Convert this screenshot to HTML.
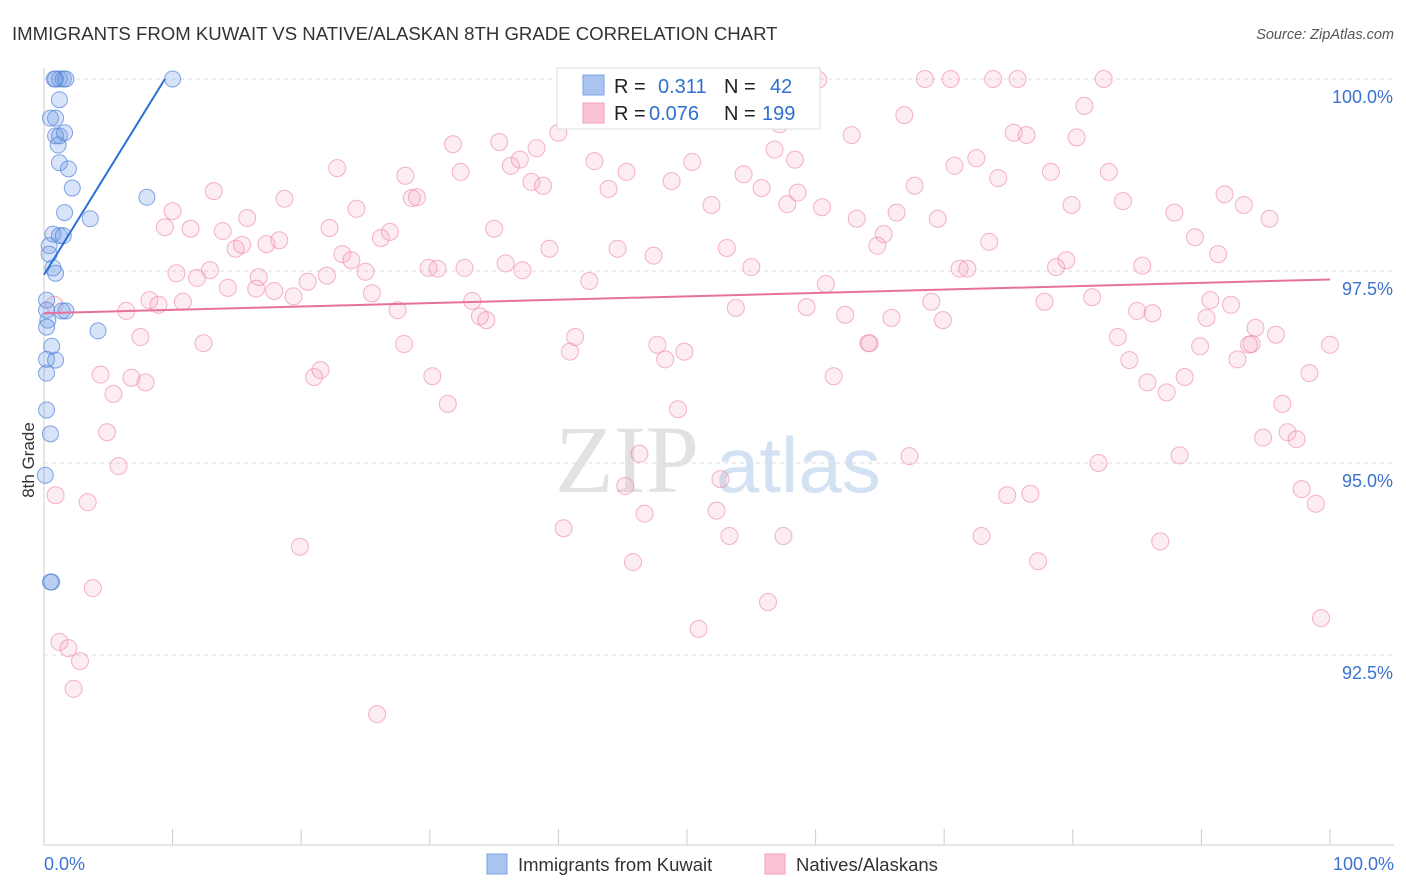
<!DOCTYPE html>
<html><head><meta charset="utf-8"><style>
body{margin:0;background:#fff;font-family:"Liberation Sans",sans-serif;}
svg{display:block}
</style></head><body>
<svg id="chart" width="1406" height="892">
<text x="12" y="40" font-size="18.6" fill="#333">IMMIGRANTS FROM KUWAIT VS NATIVE/ALASKAN 8TH GRADE CORRELATION CHART</text>
<text x="1394" y="39" font-size="14.5" fill="#555" text-anchor="end" font-style="italic">Source: ZipAtlas.com</text>
<g>
<text x="555" y="492" font-family="Liberation Serif,serif" font-size="96" fill="#e2e2e2">ZIP</text>
<text x="716" y="492" font-size="78" fill="#d3e2f3">atlas</text>
</g>
<g id="grid"></g>
<g id="axes"></g>
<g id="points"></g>
<g id="trends"></g>
<text x="34" y="460" font-size="17" fill="#333" text-anchor="middle" transform="rotate(-90 34 460)">8th Grade</text>
<g>
<rect x="557" y="68" width="263" height="61" fill="#fff" stroke="#ddd"/>
<rect x="583" y="75" width="21" height="20" fill="#a9c5ef" stroke="#7aa3e0"/>
<rect x="583" y="103" width="21" height="20" fill="#f9c3d5" stroke="#f0a0bb"/>
<text x="614" y="93" font-size="20" fill="#222">R = </text><text x="658" y="93" font-size="20" fill="#2f6fd0">0.311</text>
<text x="724" y="93" font-size="20" fill="#222">N = </text><text x="770" y="93" font-size="20" fill="#2f6fd0">42</text>
<text x="614" y="120" font-size="20" fill="#222">R = </text><text x="649" y="120" font-size="20" fill="#2f6fd0">0.076</text>
<text x="724" y="120" font-size="20" fill="#222">N = </text><text x="762" y="120" font-size="20" fill="#2f6fd0">199</text>
</g>
<g>
<rect x="487" y="854" width="20" height="20" fill="#a9c5ef" stroke="#7aa3e0"/>
<text x="518" y="871" font-size="18.5" fill="#333">Immigrants from Kuwait</text>
<rect x="765" y="854" width="20" height="20" fill="#f9c3d5" stroke="#f0a0bb"/>
<text x="796" y="871" font-size="18.5" fill="#333">Natives/Alaskans</text>
</g>
</svg>
<script>
const yTicks=[100,97.5,95,92.5];
const yTickLabels=["100.0%","97.5%","95.0%","92.5%"];
const xTickLabels=["0.0%","100.0%"];
const kuwaitX=[0.9,1.2,1.5,1.7,0.8,10.0,1.2,0.9,0.9,1.2,1.6,1.1,1.2,1.9,2.2,1.6,8.0,3.6,0.7,1.2,1.5,0.4,0.7,0.9,0.2,0.3,1.4,1.7,0.2,4.2,0.6,0.2,0.9,0.2,0.2,0.5,0.1,0.6,0.5,0.4,0.2,0.5];
const kuwaitY=[100,100,100,100,100,100,99.73,99.49,99.26,99.26,99.30,99.14,98.91,98.83,98.58,98.26,98.46,98.18,97.98,97.96,97.96,97.83,97.54,97.47,97.12,96.86,96.98,96.98,96.99,96.72,96.52,96.35,96.34,96.17,95.69,95.38,94.84,93.45,93.45,97.72,96.77,99.49];
const nativeX=[0.8,0.9,1.2,3.4,3.8,1.9,2.8,2.3,4.4,4.9,5.4,5.8,6.4,6.8,7.5,7.9,8.2,8.9,9.4,10.0,10.3,10.8,11.4,11.9,12.4,12.9,13.2,13.9,14.3,14.9,15.4,15.8,16.5,16.7,17.3,17.9,18.3,18.7,19.4,19.9,20.5,21.0,21.5,22.0,22.2,22.8,23.2,23.9,24.3,25.0,25.5,25.9,26.2,26.9,27.5,28.0,28.1,28.6,29.0,29.9,30.2,30.6,31.4,31.8,32.4,32.7,33.3,33.9,34.4,35.0,35.4,35.9,36.3,37.0,37.2,37.9,38.3,38.8,39.3,40.0,40.4,40.9,41.3,42.4,42.8,43.9,44.6,45.3,45.8,45.2,46.3,46.7,47.4,47.7,48.3,48.8,49.3,49.8,50.4,50.9,51.4,51.9,52.3,52.6,53.1,53.3,53.8,54.4,55.0,55.8,56.3,56.8,57.2,57.5,57.8,58.4,58.6,59.3,60.2,60.5,60.8,61.4,62.3,62.8,63.2,64.1,64.2,64.8,65.3,65.9,66.3,66.9,67.3,67.7,68.5,69.0,69.5,69.9,70.5,70.8,71.2,71.8,72.5,72.9,73.5,73.8,74.2,74.9,75.4,75.7,76.4,76.7,77.3,77.8,78.3,78.7,79.5,79.9,80.3,80.9,81.5,82.0,82.4,82.8,83.5,83.9,84.4,85.0,85.4,85.8,86.2,86.8,87.3,87.9,88.3,88.7,89.5,89.9,90.4,90.7,91.3,91.8,92.3,92.8,93.3,93.7,94.2,94.8,95.3,95.8,96.3,96.7,97.4,97.8,98.4,98.9,99.3,100.0,93.9];
const nativeY=[97.06,94.58,92.67,94.49,93.37,92.59,92.42,92.06,96.15,95.40,95.90,94.96,96.98,96.11,96.64,96.05,97.12,97.06,98.07,98.28,97.47,97.10,98.05,97.41,96.56,97.51,98.54,98.02,97.28,97.79,97.84,98.19,97.27,97.42,97.85,97.24,97.90,98.44,97.17,93.91,97.36,96.12,96.21,97.44,98.06,98.84,97.72,97.64,98.31,97.49,97.21,91.73,97.93,98.01,96.99,96.55,98.74,98.45,98.46,97.54,96.13,97.53,95.77,99.15,98.79,97.54,97.11,96.91,96.86,98.05,99.18,97.60,98.87,98.95,97.51,98.66,99.10,98.61,97.79,99.30,94.15,96.45,96.64,97.37,98.93,98.57,97.79,98.79,93.71,94.70,95.12,94.34,97.70,96.54,96.35,98.67,95.70,96.45,98.92,92.84,99.96,98.36,94.38,94.79,97.80,94.05,97.02,98.76,97.55,98.58,93.19,99.08,99.41,94.05,98.37,98.95,98.52,97.03,99.99,98.33,97.33,96.13,96.93,99.27,98.18,96.56,96.56,97.83,97.98,96.89,98.26,99.53,95.09,98.61,100,97.10,98.18,96.86,100,98.87,97.53,97.53,98.97,94.05,97.88,100,98.71,94.58,99.30,100,99.27,94.60,93.72,97.10,98.79,97.55,97.64,98.36,99.24,99.65,97.16,95.00,100,98.79,96.64,98.41,96.34,96.98,97.57,96.05,96.95,93.98,95.92,98.26,95.10,96.12,97.94,96.52,96.89,97.12,97.72,98.50,97.06,96.35,98.36,96.54,96.76,95.33,98.18,96.67,95.77,95.40,95.31,94.66,96.17,94.47,92.98,96.54,96.55];
const kuwaitTrend=[[0,97.45],[9.4,100]];
const nativeTrend=[[0,96.95],[100,97.39]];

const NS="http://www.w3.org/2000/svg";
const X=v=>44+v*12.86;
const Y=v=>79+(100-v)*76.8;
function mk(tag,attrs,parent){const e=document.createElementNS(NS,tag);for(const k in attrs)e.setAttribute(k,attrs[k]);document.getElementById(parent).appendChild(e);return e;}
yTicks.forEach((t,i)=>{
  const g=mk('line',{x1:44,x2:1394,y1:Y(t),y2:Y(t),stroke:'#ddd','stroke-dasharray':'4,4'},'grid');
  
  
  const l=mk('text',{x:1393,y:Y(t)+24,'font-size':18,fill:'#3b73d1','text-anchor':'end'},'axes');
  l.textContent=yTickLabels[i];
  
  
});
const ax=mk('line',{x1:44,x2:44,y1:68,y2:845,stroke:'#ccc'},'axes');


const bx=mk('line',{x1:44,x2:1394,y1:845,y2:845,stroke:'#ccc'},'axes');


for(let i=0;i<=10;i++){
  const t=mk('line',{x1:X(i*10),x2:X(i*10),y1:829,y2:845,stroke:'#ccc'},'axes');
  
  
}
[[0,'start',44],[100,'end',1394]].forEach((d,i)=>{
  const l=mk('text',{x:d[2],y:870,'font-size':18,fill:'#3b73d1','text-anchor':d[1]},'axes');
  l.textContent=xTickLabels[i];
  
  
});
nativeX.forEach((v,i)=>{
  const c=mk('circle',{cx:X(v),cy:Y(nativeY[i]),r:8.5,fill:'rgba(244,150,182,0.18)',stroke:'rgba(236,130,165,0.6)','stroke-width':1},'points');
  
  
});
kuwaitX.forEach((v,i)=>{
  const c=mk('circle',{cx:X(v),cy:Y(kuwaitY[i]),r:8,fill:'rgba(110,155,230,0.28)',stroke:'rgba(80,130,215,0.7)','stroke-width':1},'points');
  
  
});
const t1=mk('line',{x1:X(kuwaitTrend[0][0]),y1:Y(kuwaitTrend[0][1]),x2:X(kuwaitTrend[1][0]),y2:Y(kuwaitTrend[1][1]),stroke:'#2a6fd6','stroke-width':2},'trends');


const t2=mk('line',{x1:X(nativeTrend[0][0]),y1:Y(nativeTrend[0][1]),x2:X(nativeTrend[1][0]),y2:Y(nativeTrend[1][1]),stroke:'#e8719a','stroke-width':2},'trends');


</script>
</body></html>
